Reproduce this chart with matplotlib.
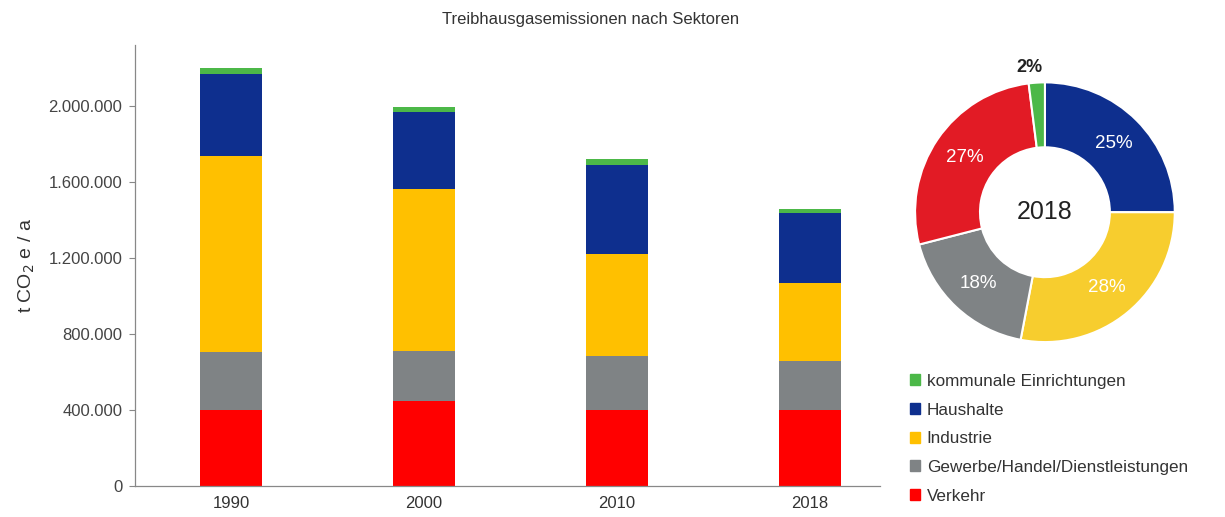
"""Treibhausgasemissionen nach Sektoren — stacked bars plus 2018 donut."""

import matplotlib

matplotlib.use("Agg")
import matplotlib.pyplot as plt
import numpy as np
from matplotlib.patches import Patch
from matplotlib.ticker import FuncFormatter

plt.rcParams["font.family"] = ["Liberation Sans", "DejaVu Sans"]

years = ["1990", "2000", "2010", "2018"]
# stacked from bottom to top, t CO2e / a
verkehr = [400000, 446000, 399000, 399000]
gewerbe = [303000, 263000, 285000, 257000]
industrie = [1034000, 855000, 539000, 410000]
haushalte = [431000, 404000, 467000, 372000]
kommunal = [31000, 28000, 32000, 21000]

sectors = ["kommunale Einrichtungen", "Haushalte", "Industrie",
           "Gewerbe/Handel/Dienstleistungen", "Verkehr"]

# donut 2018, clockwise from 12 o'clock
pie_labels = ["Haushalte", "Industrie", "Gewerbe", "Verkehr", "kommunal"]
pie_pct = [25, 28, 18, 27, 2]

RED = "#ff0000"
GRAY = "#7f8385"
YELLOW = "#ffc000"
BLUE = "#0e2f8e"
GREEN = "#4cb848"
PIE_COLORS = ["#0e2f8e", "#f7cd2e", "#7f8385", "#e21b25", "#4cb848"]
TEXT = "#333333"

fig = plt.figure(figsize=(12.25, 5.17), dpi=100)

ax = fig.add_axes([0.110, 0.060, 0.608, 0.853])
x = range(len(years))
w = 0.32
bottom = [0] * len(years)
for vals, col in [(verkehr, RED), (gewerbe, GRAY), (industrie, YELLOW),
                  (haushalte, BLUE), (kommunal, GREEN)]:
    ax.bar(x, vals, w, bottom=bottom, color=col, linewidth=0)
    bottom = [b + v for b, v in zip(bottom, vals)]

ax.set_xlim(-0.5, 3.36)
ax.set_ylim(0, 2320000)
ax.set_yticks(range(0, 2000001, 400000))
ax.yaxis.set_major_formatter(FuncFormatter(lambda v, _: f"{v:,.0f}".replace(",", ".")))
ax.set_xticks(list(x))
ax.set_xticklabels(years)
ax.tick_params(axis="x", length=0, labelsize=12, colors=TEXT, pad=7)
ax.tick_params(axis="y", length=4, width=0.8, color="#888888",
               labelsize=12, labelcolor="#444444", pad=5)
for s in ["top", "right"]:
    ax.spines[s].set_visible(False)
for s in ["left", "bottom"]:
    ax.spines[s].set_color("#888888")
    ax.spines[s].set_linewidth(0.9)
ax.set_ylabel("t CO$_2$ e / a", fontsize=14, color=TEXT, labelpad=8)

fig.text(0.482, 0.963, "Treibhausgasemissionen nach Sektoren",
         ha="center", va="center", fontsize=12, color=TEXT)

# donut
pax = fig.add_axes([0.747, 0.338, 0.212, 0.503])
wedges, _ = pax.pie(pie_pct, colors=PIE_COLORS, startangle=90, counterclock=False,
                    radius=1.0, wedgeprops={"width": 0.5, "edgecolor": "white",
                                            "linewidth": 1.5})
for wd, p in zip(wedges, pie_pct):
    ang = np.deg2rad((wd.theta1 + wd.theta2) / 2)
    if p < 5:
        pax.text(1.12 * np.cos(ang) - 0.05, 1.12 * np.sin(ang), f"{p}%",
                 ha="center", va="center", fontsize=13, fontweight="bold",
                 color="#222222")
    else:
        pax.text(0.75 * np.cos(ang), 0.75 * np.sin(ang), f"{p}%",
                 ha="center", va="center", fontsize=13.5, color="white")
pax.text(0, 0, "2018", ha="center", va="center", fontsize=18, color="#222222")
pax.set_xlim(-1, 1)
pax.set_ylim(-1, 1)
pax.set_aspect("equal")
pax.axis("off")

handles = [Patch(color=c) for c in [GREEN, BLUE, YELLOW, GRAY, RED]]
fig.legend(handles, sectors, loc="upper left", bbox_to_anchor=(0.737, 0.290),
           frameon=False, fontsize=12.3, handlelength=0.6, handleheight=0.6,
           handletextpad=0.4, labelspacing=0.8, borderaxespad=0,
           labelcolor=TEXT)

fig.savefig("out.png", dpi=100)
plt.close(fig)
